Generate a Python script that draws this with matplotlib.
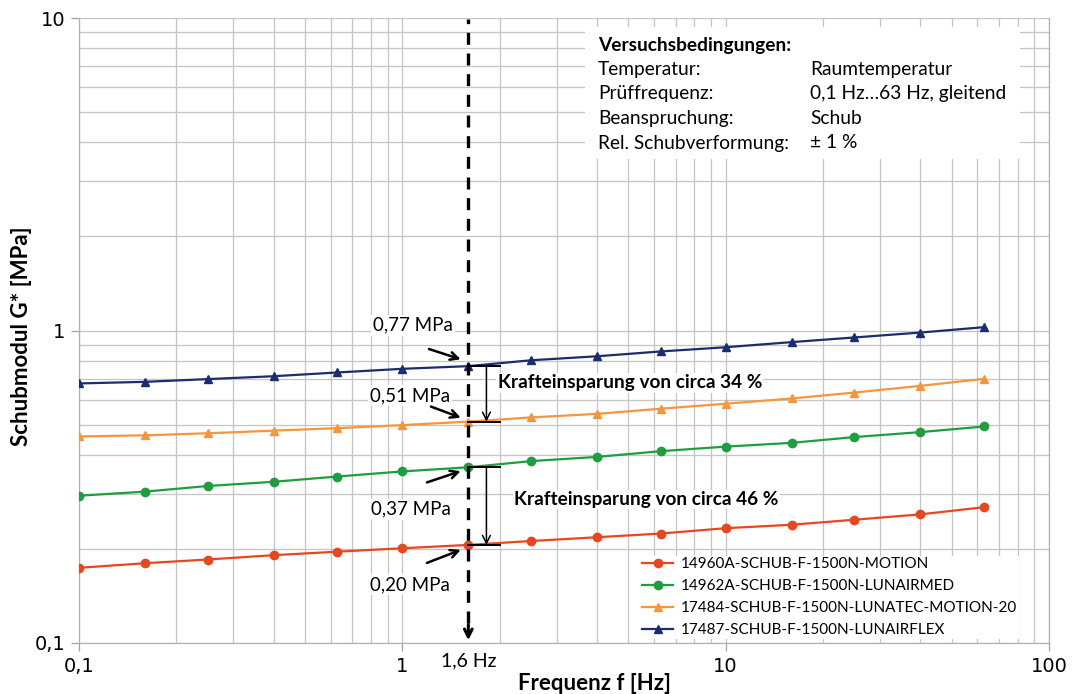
import matplotlib
matplotlib.use('Agg')
import numpy as np
import matplotlib.pyplot as plt
from matplotlib.ticker import LogLocator, FuncFormatter, NullFormatter
from matplotlib.transforms import offset_copy

# frequencies (Hz)
freq = [0.1, 0.16, 0.25, 0.4, 0.63, 1, 1.6, 2.5, 4, 6.3, 10, 16, 25, 40, 63]

# shear modulus G* (MPa)
g_motion = [0.174, 0.180, 0.185, 0.191, 0.196, 0.201, 0.206, 0.212, 0.218,
            0.224, 0.233, 0.239, 0.248, 0.258, 0.272]
g_lunairmed = [0.296, 0.305, 0.318, 0.328, 0.341, 0.354, 0.365, 0.382, 0.394,
               0.411, 0.425, 0.437, 0.456, 0.473, 0.493]
g_lunatec = [0.458, 0.462, 0.469, 0.478, 0.487, 0.498, 0.511, 0.527, 0.541,
             0.562, 0.583, 0.606, 0.633, 0.665, 0.700]
g_lunairflex = [0.677, 0.685, 0.699, 0.714, 0.734, 0.754, 0.769, 0.803, 0.827,
                0.857, 0.884, 0.918, 0.950, 0.985, 1.025]

labels = ['14960A-SCHUB-F-1500N-MOTION',
          '14962A-SCHUB-F-1500N-LUNAIRMED',
          '17484-SCHUB-F-1500N-LUNATEC-MOTION-20',
          '17487-SCHUB-F-1500N-LUNAIRFLEX']
colors = ['#E8461E', '#1E9E3E', '#F7953C', '#1C2C70']
markers = ['o', 'o', '^', '^']

f_mark = 1.6
values_at_mark = ['0,77 MPa', '0,51 MPa', '0,37 MPa', '0,20 MPa']

conditions_left = ['Temperatur:', 'Prüffrequenz:', 'Beanspruchung:', 'Rel. Schubverformung:']
conditions_right = ['Raumtemperatur', '0,1 Hz…63 Hz, gleitend', 'Schub', '± 1 %']

TXT = ['Lato', 'DejaVu Sans']

fig = plt.figure(figsize=(10.78, 6.94), dpi=100)
ax = fig.add_axes([79 / 1078, 1 - 643 / 694, 970 / 1078, 625 / 694])
ax.set_xscale('log')
ax.set_yscale('log')
ax.set_xlim(0.1, 100)
ax.set_ylim(0.1, 10)

series = [g_motion, g_lunairmed, g_lunatec, g_lunairflex]
for s, lab, c, m in zip(series, labels, colors, markers):
    ax.plot(freq, s, color=c, marker=m, markersize=6, lw=1.6, label=lab, zorder=3)

# grid
ax.xaxis.set_minor_locator(LogLocator(base=10, subs=np.arange(2, 10)))
ax.yaxis.set_minor_locator(LogLocator(base=10, subs=np.arange(2, 10)))
ax.xaxis.set_minor_formatter(NullFormatter())
ax.yaxis.set_minor_formatter(NullFormatter())
ax.grid(True, which='both', color='#c4c4c4', lw=0.9, zorder=0)
ax.set_axisbelow(True)
fmt = FuncFormatter(lambda v, p: ('%g' % v).replace('.', ','))
ax.xaxis.set_major_formatter(fmt)
ax.yaxis.set_major_formatter(fmt)
ax.set_xticks([0.1, 1, 10, 100])
ax.set_yticks([0.1, 1, 10])
ax.tick_params(which='major', length=6, width=0.9, color='#a0a0a0', labelsize=14, pad=4)
ax.tick_params(which='minor', length=0)
ax.spines['top'].set_visible(False)
for sp in ['left', 'bottom', 'right']:
    ax.spines[sp].set_color('#b0b0b0')
    ax.spines[sp].set_linewidth(0.9)

ax.set_xlabel('Frequenz f [Hz]', fontsize=16, fontweight='bold', family=TXT, va='center')
ax.xaxis.set_label_coords((594 - 79) / 970, -(684 - 643) / 625)
ax.set_ylabel('Schubmodul G* [MPa]', fontsize=16, fontweight='bold', family=TXT, va='center')
ax.yaxis.set_label_coords(-(79 - 22) / 970, (643 - 336) / 625)

# vertical dashed marker at 1.6 Hz
ax.plot([f_mark, f_mark], [0.116, 9.9], color='black', lw=2.4, dashes=(3.6, 2.6), zorder=4)
ax.annotate('', xy=(f_mark, 0.1), xytext=(f_mark, 0.117),
            arrowprops=dict(arrowstyle='->', lw=2.2, color='black', mutation_scale=14), zorder=4)
ax.text(f_mark, -0.029, '1,6 Hz', transform=ax.get_xaxis_transform(), ha='center', va='center',
        fontsize=14, family=TXT)

i_mark = freq.index(f_mark)
pts = [g_lunairflex[i_mark], g_lunatec[i_mark], g_lunairmed[i_mark], g_motion[i_mark]]

# value labels and small arrows
text_off = [(-15, 41), (-18, 26), (-17, -42), (-18, -40)]
arrow_tail = [(-37, 12), (-35, 13), (-39, -13), (-39, -15)]
head_off = [(-5, 6), (-5, 3), (-5, -3), (-5, -4)]
for v, lab, to, at, ho in zip(pts, values_at_mark, text_off, arrow_tail, head_off):
    ax.annotate(lab, xy=(f_mark, v), xytext=to, textcoords='offset pixels',
                ha='right', va='center', fontsize=13.5, family=TXT, zorder=2.5,
                bbox=dict(fc='white', ec='none', pad=1.5))
    tr = offset_copy(ax.transData, fig=fig, x=ho[0], y=ho[1], units='dots')
    ax.annotate('', xy=(f_mark, v), xycoords=tr, xytext=at, textcoords='offset pixels',
                arrowprops=dict(arrowstyle='->', lw=1.8, color='black', mutation_scale=14), zorder=5)

# savings brackets
x_end = 2.0
x_arrow = 1.82
for top, bot, txt, tx, ty in [(pts[0], pts[1], 'Krafteinsparung von circa 34 %', 1.97, 0.68),
                              (pts[2], pts[3], 'Krafteinsparung von circa 46 %', 2.22, 0.288)]:
    ax.plot([f_mark, x_end], [top, top], color='black', lw=1.4, zorder=4)
    ax.plot([f_mark, x_end], [bot, bot], color='black', lw=1.4, zorder=4)
    ax.annotate('', xy=(x_arrow, bot), xytext=(x_arrow, top),
                arrowprops=dict(arrowstyle='->', lw=1.1, color='black', mutation_scale=14,
                                shrinkA=0, shrinkB=0), zorder=4)
    ax.text(tx, ty, txt, ha='left', va='center', fontsize=13.7, fontweight='bold', family=TXT,
            zorder=2.5, bbox=dict(fc='white', ec='none', pad=1))

# test conditions box
ax.add_patch(plt.Rectangle((0.5216, 0.774), 0.4484, 0.211, transform=ax.transAxes,
                           fc='white', ec='none', zorder=2))
x0 = (598 - 79) / 970
x1 = (810 - 79) / 970
y0 = (643 - 45) / 625
ax.text(x0, y0, 'Versuchsbedingungen:', transform=ax.transAxes, ha='left', va='center',
        fontsize=13.8, fontweight='bold', family=TXT, zorder=3)
for k, (a, b) in enumerate(zip(conditions_left, conditions_right)):
    yy = y0 - (k + 1) * 24.5 / 625
    ax.text(x0, yy, a, transform=ax.transAxes, ha='left', va='center', fontsize=13.8, family=TXT, zorder=3)
    ax.text(x1, yy, b, transform=ax.transAxes, ha='left', va='center', fontsize=13.8, family=TXT, zorder=3)

leg = ax.legend(loc='lower left', bbox_to_anchor=((633 - 79) / 970, -0.006), frameon=True, fancybox=False,
                edgecolor='none', facecolor='white', framealpha=1, prop={'family': TXT, 'size': 11},
                handlelength=2.0, handletextpad=0.5, labelspacing=0.52, borderpad=0.12)
leg.set_zorder(2.2)

fig.savefig('out.png', dpi=100)
